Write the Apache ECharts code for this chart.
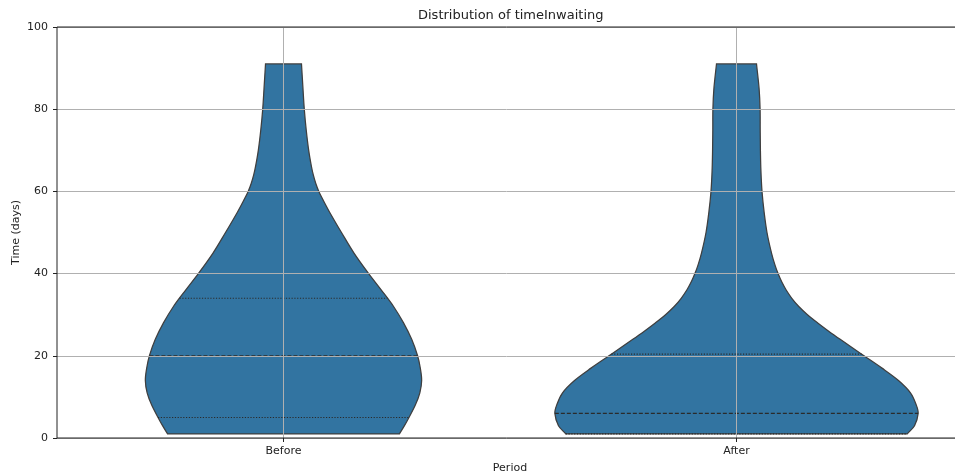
<!DOCTYPE html>
<html><head><meta charset="utf-8">
<script src="https://cdn.jsdelivr.net/npm/echarts@6/dist/echarts.min.js"></script>
<style>html,body{margin:0;padding:0;background:#fff;overflow:hidden}#c{width:955px;height:474px}</style>
</head><body><div id="c"></div>
<script>
// ---- data ----
const categories = ['Before', 'After'];
const yTicks = [0, 20, 40, 60, 80, 100];
// density profile: value levels (days) and violin half-width (in category units)
const beforeY = [1, 3, 5, 8, 11, 14, 17, 20, 24, 28, 32, 36, 40, 45, 50, 55, 58, 60, 62, 64, 66, 70, 75, 80, 85, 91];
const beforeHalfWidth = [0.256, 0.267, 0.277, 0.291, 0.301, 0.305, 0.302, 0.296, 0.283, 0.265, 0.243, 0.216, 0.188, 0.1556, 0.128, 0.1015, 0.087, 0.078, 0.0711, 0.0658, 0.0618, 0.0556, 0.0501, 0.0459, 0.043, 0.0397];
const afterY = [1, 3, 6, 8, 11, 14, 17, 20, 22, 24, 26, 28, 30, 32, 34, 36, 38, 40, 42, 45, 50, 55, 60, 65, 70, 75, 80, 85, 91];
const afterHalfWidth = [0.377, 0.393, 0.401, 0.397, 0.384, 0.3576, 0.3212, 0.2815, 0.255, 0.2289, 0.2035, 0.1793, 0.1567, 0.1375, 0.1221, 0.1097, 0.0998, 0.0918, 0.0852, 0.0773, 0.0673, 0.0609, 0.0563, 0.0539, 0.0528, 0.0523, 0.0521, 0.0499, 0.0442];
// quartiles: Q1, median, Q3
const beforeQuartiles = [5, 20, 34];
const afterQuartiles = [1, 6, 20.4];

const profiles = [
  { y: beforeY, w: beforeHalfWidth, q: beforeQuartiles },
  { y: afterY, w: afterHalfWidth, q: afterQuartiles }
];

const FONT = 'DejaVu Sans';
const TXT = '#222222';
const FILL = '#3274a1';
const EDGE = '#3f3f3f';

function widthAt(p, v) {
  const ys = p.y, ws = p.w;
  if (v <= ys[0]) return ws[0];
  for (let i = 1; i < ys.length; i++) {
    if (v <= ys[i]) {
      const t = (v - ys[i - 1]) / (ys[i] - ys[i - 1]);
      return ws[i - 1] + t * (ws[i] - ws[i - 1]);
    }
  }
  return ws[ws.length - 1];
}

// smooth curve x = f(y) through pixel points (y monotonic), Hermite with non-uniform slopes
function curveThrough(pts) {
  const n = pts.length;
  const m = [];
  for (let i = 0; i < n; i++) {
    const a = pts[Math.max(0, i - 1)], b = pts[Math.min(n - 1, i + 1)];
    m.push((b[0] - a[0]) / (b[1] - a[1]));
  }
  let d = '';
  for (let i = 0; i < n - 1; i++) {
    const p1 = pts[i], p2 = pts[i + 1];
    const h = p2[1] - p1[1];
    const c1 = [p1[0] + m[i] * h / 3, p1[1] + h / 3];
    const c2 = [p2[0] - m[i + 1] * h / 3, p2[1] - h / 3];
    d += ' C' + c1[0].toFixed(2) + ' ' + c1[1].toFixed(2) + ' ' + c2[0].toFixed(2) + ' ' + c2[1].toFixed(2) + ' ' + p2[0].toFixed(2) + ' ' + p2[1].toFixed(2);
  }
  return d;
}

function renderItem(params, api) {
  const idx = api.value(0);
  const p = profiles[idx];
  const band = api.size([1, 0])[0];
  const right = [], left = [];
  for (let i = 0; i < p.y.length; i++) {
    const c = api.coord([idx, p.y[i]]);
    right.push([c[0] + p.w[i] * band, c[1]]);
    left.push([c[0] - p.w[i] * band, c[1]]);
  }
  const leftRev = left.slice().reverse();
  let d = 'M' + right[0][0] + ' ' + right[0][1] + curveThrough(right);
  d += ' L' + leftRev[0][0] + ' ' + leftRev[0][1] + curveThrough(leftRev) + ' Z';
  const children = [{
    type: 'path',
    shape: { pathData: d },
    style: { fill: FILL, stroke: EDGE, lineWidth: 1.25 }
  }];
  p.q.forEach(function (qv, k) {
    const c = api.coord([idx, qv]);
    const hw = widthAt(p, qv) * band;
    children.push({
      type: 'line',
      shape: { x1: c[0] - hw, y1: c[1], x2: c[0] + hw, y2: c[1] },
      style: { stroke: '#2b2b2b', lineWidth: 1.1, lineDash: k === 1 ? [4, 2] : [1.2, 1.6] }
    });
  });
  return { type: 'group', children: children };
}

const chart = echarts.init(document.getElementById('c'));
chart.setOption({
  animation: false,
  title: {
    text: 'Distribution of timeInwaiting',
    left: 413, top: 4,
    textStyle: { fontFamily: FONT, fontSize: 13, fontWeight: 'normal', color: TXT }
  },
  grid: { left: 57, right: -8, top: 27, bottom: 36, outerBoundsMode: 'none', containLabel: false, show: true, z: 6, borderColor: '#222', borderWidth: 1, backgroundColor: 'transparent' },
  xAxis: {
    type: 'category', data: categories, boundaryGap: true, z: 5,
    axisLine: { show: false },
    axisTick: { show: true, alignWithLabel: true, length: 4, lineStyle: { color: TXT } },
    axisLabel: { fontFamily: FONT, fontSize: 11, color: TXT, margin: 8 },
    splitLine: { show: true, alignWithLabel: true, lineStyle: { color: '#b0b0b0', width: 1 } },
    name: 'Period', nameLocation: 'middle', nameGap: 25, nameMoveOverlap: false,
    nameTextStyle: { fontFamily: FONT, fontSize: 11, color: TXT }
  },
  yAxis: {
    type: 'value', min: yTicks[0], max: yTicks[yTicks.length - 1], interval: 20, z: 5,
    axisLine: { show: false },
    axisTick: { show: true, length: 4, lineStyle: { color: TXT } },
    axisLabel: { fontFamily: FONT, fontSize: 11, color: TXT, margin: 9 },
    splitLine: { show: true, lineStyle: { color: '#b0b0b0', width: 1 } },
    name: 'Time (days)', nameLocation: 'middle', nameGap: 35, nameRotate: 90, nameMoveOverlap: false,
    nameTextStyle: { fontFamily: FONT, fontSize: 11, color: TXT }
  },
  series: [{
    type: 'custom', z: 2,
    renderItem: renderItem,
    data: categories.map(function (c, i) { return [i]; }),
    encode: { x: 0 },
    clip: false
  }]
});
</script>
</body></html>
